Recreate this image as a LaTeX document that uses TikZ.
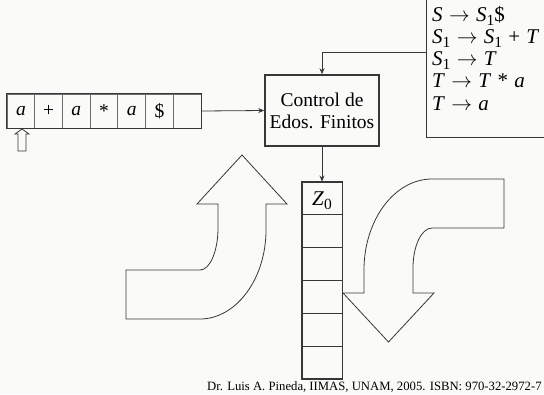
\documentclass[tikz,border=0pt]{standalone}
\usepackage{fontspec}
\setmainfont{Liberation Serif}
\usetikzlibrary{arrows.meta}
\definecolor{bg}{RGB}{250,250,249}
\definecolor{ln}{RGB}{55,55,55}
\definecolor{lnlight}{RGB}{110,110,110}
\newcommand{\lsub}[1]{\smash{\raisebox{-4.5pt}{\fontsize{15.5}{15.5}\selectfont #1}}}
\newcommand{\arr}{\hspace{0.3em}$\rightarrow$\hspace{0.3em}}
\newcommand{\opsp}[1]{\hspace{0.3em}#1\hspace{0.3em}}
\tikzset{
  big/.style={font=\fontsize{19.5}{22}\selectfont},
  gram/.style={font=\fontsize{21}{22}\selectfont},
  cell/.style={draw=lnlight, line width=0.9pt, minimum width=27.7pt, minimum height=34pt, inner sep=0pt, anchor=center},
  scell/.style={draw=ln, line width=0.9pt, minimum width=40pt, minimum height=32.8pt, inner sep=0pt},
  frame/.style={draw=ln, line width=1.6pt},
  conn/.style={draw=ln, line width=0.8pt, -{Stealth[length=6pt,width=5pt]}},
  fat/.style={draw=ln, line width=0.8pt, fill=bg},
  gline/.style={gram, anchor=base west, inner sep=0pt},
}
\begin{document}
\begin{tikzpicture}[x=1pt,y=-1pt]
\fill[bg] (0,0) rectangle (544,394);
\useasboundingbox (0,0) rectangle (544,394);
% grammar box
\node[draw=ln, line width=1pt, minimum width=140pt, minimum height=146pt, inner sep=0pt] (gram) at (496,64) {};
\node[gline] (g1) at (432,21) {\textit{S}\arr\textit{S}\lsub{1}\$};
\node[gline] (g2) at (432,43) {\textit{S}\lsub{1}\arr\textit{S}\lsub{1}\opsp{+}\textit{T}};
\node[gline] (g3) at (432,65) {\textit{S}\lsub{1}\arr\textit{T}};
\node[gline] (g4) at (432,87) {\textit{T}\arr\textit{T}\opsp{*}\textit{a}};
\node[gline] (g5) at (432,110) {\textit{T}\arr\textit{a}};
% control
\node[frame, big, minimum width=114pt, minimum height=71pt, align=center, inner sep=0pt] (ctrl) at (322,110.5) {Control de\\Edos. Finitos};
% tape
\node[cell, big] (c1) at (20.9,111) {\textit{a}};
\node[cell, big] (c2) at (48.6,111) {+};
\node[cell, big] (c3) at (76.3,111) {\textit{a}};
\node[cell, big] (c4) at (104,111) {*};
\node[cell, big] (c5) at (131.7,111) {\textit{a}};
\node[cell, big] (c6) at (159.4,111) {\$};
\node[cell, big] (c7) at (187.1,111) {};
\draw[frame] (c1.north west) rectangle (c7.south east);
% head pointer
\draw[fat] (22,129) -- (29,134) -- (26,134) -- (26,151) -- (18,151) -- (18,134) -- (15,134) -- cycle;
% stack
\node[scell, gram] (s0) at (322,198.4) {\textit{Z}\lsub{0}};
\node[scell] (s1) at (322,231.2) {};
\node[scell] (s2) at (322,264) {};
\node[scell] (s3) at (322,296.8) {};
\node[scell] (s4) at (322,329.6) {};
\node[scell] (s5) at (322,362.4) {};
\draw[frame] (s0.north west) rectangle (s5.south east);
% connectors
\coordinate (gin) at (426,52);
\draw[conn] (gin) -| (ctrl.north);
\draw[conn] (c7.east) -- (ctrl.west);
\draw[conn] (ctrl.south) -- (s0.north);
% big arrows
\draw[fat] (242,155) -- (287,204) -- (266,204) -- (266,230)
  .. controls (266,279) and (236,319) .. (200,319) -- (126,319) -- (126,270) -- (200,270)
  .. controls (210,270) and (218,251) .. (218,228) -- (218,204) -- (197,204) -- cycle;
\draw[fat] (432,179) -- (504,179) -- (504,228) -- (432,228)
  .. controls (421.5,228) and (413,246) .. (413,268) -- (413,293) -- (434,293) -- (388.5,342)
  -- (343,293) -- (364,293) -- (364,270)
  .. controls (364,220) and (394.5,179) .. (432,179) -- cycle;
% footer
\node[anchor=base west, inner sep=0pt, font=\fontsize{12.7}{14}\selectfont] (foot) at (207,390) {Dr. Luis A. Pineda, IIMAS, UNAM, 2005. ISBN: 970-32-2972-7};
\end{tikzpicture}
\end{document}
